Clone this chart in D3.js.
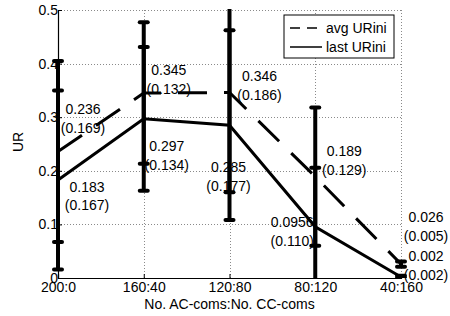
<!DOCTYPE html>
<html>
<head>
<meta charset="utf-8">
<script src="https://cdn.jsdelivr.net/npm/d3@7"></script>
<style>
  body { margin: 0; background: #fff; }
  svg { display: block; font-family: "Liberation Sans", Arial, sans-serif; }
</style>
</head>
<body>
<div id="chart"></div>
<script>
// data
var categories = ["200:0", "160:40", "120:80", "80:120", "40:160"];
var avgMean = [0.236, 0.345, 0.346, 0.189, 0.026];
var avgStd = [0.169, 0.132, 0.186, 0.129, 0.005];
var lastMean = [0.183, 0.297, 0.285, 0.0956, 0.002];
var lastStd = [0.167, 0.134, 0.177, 0.110, 0.002];
var yTicks = [0, 0.1, 0.2, 0.3, 0.4, 0.5];

// where the annotation blocks sit (value of block centre, px shift from point)
var avgLabelY = [0.301, 0.374, 0.363, 0.223, 0.100];
var avgLabelDx = [25, 25, 30, 29, 25];
var lastLabelY = [0.156, 0.231, 0.193, 0.0905, 0.027];
var lastLabelDx = [29, 23, -1, -23, 25];

var W = 450, H = 316;
var margin = {top: 10, right: 49, bottom: 38, left: 58};

var svg = d3.select("#chart").append("svg")
    .attr("width", W)
    .attr("height", H);

var x = d3.scalePoint()
    .domain(categories)
    .range([margin.left, W - margin.right]);

var y = d3.scaleLinear()
    .domain([0, 0.5])
    .range([H - margin.bottom, margin.top]);

svg.append("clipPath").attr("id", "plotclip")
    .append("rect")
    .attr("x", margin.left - 10)
    .attr("y", margin.top - 1)
    .attr("width", W - margin.left - margin.right + 20)
    .attr("height", H - margin.top - margin.bottom + 1);

// grid
var grid = svg.append("g").attr("stroke", "#8a8a8a").attr("stroke-width", 1)
    .attr("stroke-dasharray", "1,2");
grid.selectAll(".gy").data(yTicks.slice(1)).enter().append("line")
    .attr("x1", margin.left).attr("x2", W - margin.right)
    .attr("y1", function(d) { return Math.round(y(d)) + 0.5; })
    .attr("y2", function(d) { return Math.round(y(d)) + 0.5; });
grid.selectAll(".gx").data(categories.slice(1)).enter().append("line")
    .attr("y1", margin.top).attr("y2", H - margin.bottom)
    .attr("x1", function(d) { return Math.round(x(d)) + 0.5; })
    .attr("x2", function(d) { return Math.round(x(d)) + 0.5; });

// axes
var xAxis = svg.append("g")
    .attr("transform", "translate(0," + (H - margin.bottom) + ")")
    .call(d3.axisBottom(x).tickSize(-4).tickPadding(6));
var yAxis = svg.append("g")
    .attr("transform", "translate(" + margin.left + ",0)")
    .call(d3.axisLeft(y).tickValues(yTicks).tickSize(-4).tickPadding(0)
        .tickFormat(function(d) { return d === 0 ? "0" : d3.format(".1f")(d); }));
[xAxis, yAxis].forEach(function(a) {
    a.select(".domain").attr("stroke", "#000").attr("stroke-width", 1.2);
    a.selectAll(".tick line").attr("stroke", "#000");
    a.selectAll(".tick text").attr("fill", "#000").style("font-size", "14px")
        .style("font-family", "Liberation Sans, Arial, sans-serif");
});
xAxis.selectAll(".tick text").attr("dy", "0.55em");

svg.append("text")
    .attr("x", (margin.left + W - margin.right) / 2)
    .attr("y", H - 7)
    .attr("text-anchor", "middle")
    .style("font-size", "14px")
    .text("No. AC-coms:No. CC-coms");

svg.append("text")
    .attr("transform", "translate(23," + 142 + ") rotate(-90)")
    .attr("text-anchor", "middle")
    .style("font-size", "14px")
    .text("UR");

// annotations (drawn beneath the lines)
function addLabels(means, stds, ly, dx) {
    categories.forEach(function(c, i) {
        var t = svg.append("text")
            .attr("text-anchor", "middle")
            .style("font-size", "14px")
            .attr("x", x(c) + dx[i])
            .attr("y", y(ly[i]));
        t.append("tspan").attr("x", x(c) + dx[i]).attr("dy", "-0.2em").text(String(means[i]));
        t.append("tspan").attr("x", x(c) + dx[i]).attr("dy", "1.35em").text("(" + stds[i].toFixed(3) + ")");
    });
}
addLabels(avgMean, avgStd, avgLabelY, avgLabelDx);
addLabels(lastMean, lastStd, lastLabelY, lastLabelDx);

var plot = svg.append("g").attr("clip-path", "url(#plotclip)");

var line = d3.line()
    .x(function(d, i) { return x(categories[i]); })
    .y(function(d) { return y(d); });

plot.append("path").datum(avgMean)
    .attr("d", line)
    .attr("fill", "none").attr("stroke", "#000").attr("stroke-width", 3)
    .attr("stroke-dasharray", "29,17");

plot.append("path").datum(lastMean)
    .attr("d", line)
    .attr("fill", "none").attr("stroke", "#000").attr("stroke-width", 3);

function addBars(means, stds) {
    var g = plot.append("g").attr("stroke", "#000");
    categories.forEach(function(c, i) {
        var lo = means[i] - stds[i], hi = means[i] + stds[i];
        g.append("line")
            .attr("x1", x(c)).attr("x2", x(c))
            .attr("y1", y(lo)).attr("y2", y(hi))
            .attr("stroke-width", 4);
        [lo, hi].forEach(function(v) {
            g.append("line")
                .attr("x1", x(c) - 4).attr("x2", x(c) + 4)
                .attr("y1", y(v)).attr("y2", y(v))
                .attr("stroke-width", 4)
                .attr("stroke-linecap", "round");
        });
    });
}
addBars(avgMean, avgStd);
addBars(lastMean, lastStd);

// legend
var lg = svg.append("g").attr("transform", "translate(284,15)");
lg.append("rect")
    .attr("width", 110).attr("height", 43)
    .attr("fill", "#fff").attr("stroke", "#000").attr("stroke-width", 1);
var legendItems = ["avg URini", "last URini"];
legendItems.forEach(function(name, i) {
    var yy = 13 + i * 19;
    lg.append("line")
        .attr("x1", 6).attr("x2", 38).attr("y1", yy).attr("y2", yy)
        .attr("stroke", "#000").attr("stroke-width", 1.5)
        .attr("stroke-dasharray", i === 0 ? "10,7" : null);
    lg.append("text")
        .attr("x", 42).attr("y", yy + 5)
        .style("font-size", "14px")
        .text(name);
});
</script>
</body>
</html>
